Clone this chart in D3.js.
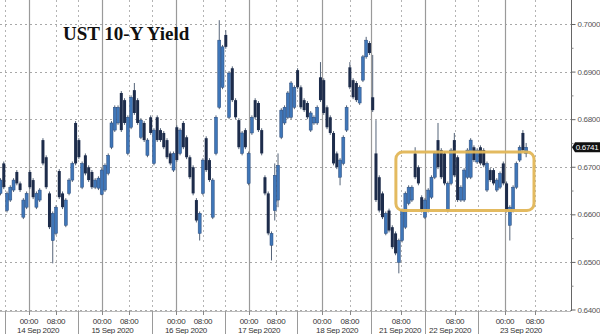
<!DOCTYPE html>
<html>
<head>
<meta charset="utf-8">
<script src="https://cdn.jsdelivr.net/npm/d3@7"></script>
<style>
  body { margin: 0; background: #fff; }
  svg { display: block; }
</style>
</head>
<body>
<svg id="chart" width="600" height="334"></svg>
<script>
// UST 10-Y yield, intraday candles [open, high, low, close], one array per session
const sep14 = [
  [.6644,.6676,.6640,.6672],[.6707,.6711,.6653,.6657],[.6608,.6648,.6604,.6644],[.6630,.6661,.6626,.6657],
  [.6651,.6676,.6647,.6672],[.6689,.6693,.6661,.6665],[.6665,.6669,.6647,.6651],[.6594,.6634,.6590,.6630],
  [.6615,.6648,.6611,.6644],[.6689,.6693,.6653,.6657],[.6672,.6676,.6632,.6636],[.6615,.6648,.6611,.6644],
  [.6630,.6655,.6626,.6651],[.6756,.6760,.6703,.6707],[.6720,.6724,.6653,.6657],[.6644,.6648,.6569,.6573],
  [.6545,.6606,.6497,.6602],[.6560,.6619,.6556,.6615],[.6691,.6695,.6632,.6636],[.6644,.6648,.6611,.6615],
  [.6577,.6634,.6573,.6630],[.6644,.6676,.6640,.6672],[.6672,.6711,.6668,.6707],[.6792,.6796,.6703,.6707]
];
const sep15 = [
  [.6756,.6760,.6716,.6720],[.6657,.6711,.6653,.6707],[.6724,.6728,.6682,.6686],[.6699,.6703,.6668,.6672],
  [.6689,.6693,.6653,.6657],[.6657,.6676,.6653,.6672],[.6655,.6680,.6651,.6676],[.6642,.6697,.6640,.6693],
  [.6651,.6707,.6647,.6703],[.6686,.6728,.6682,.6724],[.6741,.6796,.6737,.6792],[.6777,.6829,.6773,.6825],
  [.6792,.6829,.6788,.6825],[.6855,.6859,.6773,.6777],[.6840,.6844,.6788,.6792],[.6728,.6808,.6724,.6804],
  [.6783,.6850,.6779,.6846],[.6861,.6876,.6809,.6813],[.6840,.6844,.6788,.6792],[.6762,.6802,.6758,.6798],
  [.6792,.6796,.6752,.6756],[.6724,.6760,.6720,.6756],[.6804,.6808,.6767,.6771]
];
const sep16 = [
  [.6707,.6781,.6703,.6777],[.6804,.6808,.6752,.6756],[.6777,.6781,.6752,.6756],[.6771,.6775,.6737,.6741],
  [.6756,.6760,.6716,.6720],[.6728,.6732,.6703,.6707],[.6693,.6732,.6689,.6728],[.6783,.6787,.6710,.6714],
  [.6728,.6781,.6724,.6777],[.6792,.6796,.6737,.6741],[.6762,.6766,.6716,.6720],[.6720,.6724,.6674,.6678],
  [.6699,.6703,.6640,.6644],[.6630,.6634,.6583,.6587],[.6560,.6606,.6545,.6602],[.6644,.6718,.6640,.6714],
  [.6760,.6764,.6689,.6693],[.6714,.6718,.6668,.6672],[.6594,.6676,.6590,.6672],[.6728,.6808,.6724,.6804],
  [.6825,.7008,.6821,.6966],[.6867,.6956,.6863,.6952]
];
const sep17 = [
  [.6977,.6987,.6948,.6952],[.6804,.6901,.6800,.6897],[.6907,.6911,.6836,.6840],[.6840,.6844,.6800,.6804],
  [.6798,.6802,.6737,.6741],[.6728,.6775,.6724,.6771],[.6777,.6781,.6737,.6741],[.6665,.6732,.6661,.6728],
  [.6771,.6808,.6767,.6804],[.6840,.6844,.6800,.6804],[.6834,.6838,.6773,.6777],[.6777,.6781,.6724,.6728],
  [.6678,.6682,.6640,.6644],[.6644,.6648,.6556,.6560],[.6535,.6564,.6503,.6560],[.6608,.6707,.6587,.6682],
  [.6630,.6728,.6615,.6703],[.6762,.6823,.6758,.6819],[.6792,.6829,.6788,.6825],[.6804,.6859,.6800,.6855],
  [.6804,.6880,.6800,.6876],[.6825,.6871,.6821,.6867]
];
const sep18 = [
  [.6903,.6907,.6863,.6867],[.6867,.6871,.6821,.6825],[.6840,.6844,.6815,.6819],[.6834,.6838,.6800,.6804],
  [.6777,.6817,.6773,.6813],[.6792,.6808,.6788,.6804],[.6792,.6829,.6788,.6825],[.6888,.6920,.6836,.6840],
  [.6882,.6886,.6809,.6813],[.6825,.6829,.6779,.6783],[.6804,.6808,.6767,.6771],[.6771,.6775,.6703,.6707],
  [.6728,.6732,.6695,.6699],[.6678,.6718,.6661,.6714],[.6707,.6766,.6703,.6762],[.6777,.6829,.6773,.6825],
  [.6909,.6920,.6863,.6867],[.6882,.6886,.6842,.6846],[.6876,.6880,.6836,.6840],[.6834,.6871,.6830,.6867],
  [.6882,.6935,.6878,.6931],[.6931,.6973,.6927,.6966],[.6960,.6964,.6935,.6939]
];
const sep21 = [
  [.6846,.6935,.6815,.6819],[.6728,.6798,.6626,.6630],[.6678,.6682,.6604,.6608],[.6644,.6648,.6590,.6594],
  [.6560,.6606,.6556,.6602],[.6608,.6612,.6562,.6566],[.6573,.6577,.6527,.6531],[.6560,.6564,.6514,.6518],
  [.6499,.6549,.6476,.6545],[.6545,.6612,.6541,.6608],[.6573,.6648,.6569,.6644],[.6623,.6661,.6619,.6657],
  [.6630,.6661,.6626,.6657],[.6728,.6741,.6674,.6678],[.6699,.6703,.6661,.6665],[.6636,.6640,.6604,.6608]
];
const sep22 = [
  [.6594,.6634,.6590,.6630],[.6608,.6655,.6604,.6651],[.6636,.6682,.6632,.6678],[.6678,.6732,.6674,.6728],
  [.6756,.6792,.6695,.6699],[.6735,.6739,.6674,.6678],[.6728,.6732,.6661,.6665],[.6608,.6669,.6604,.6665],
  [.6665,.6739,.6661,.6735],[.6756,.6771,.6678,.6682],[.6720,.6724,.6626,.6630],[.6630,.6661,.6626,.6657],
  [.6630,.6697,.6626,.6693],[.6678,.6739,.6674,.6735],[.6678,.6760,.6674,.6756],[.6741,.6745,.6710,.6714],
  [.6710,.6739,.6706,.6735]
];
const sep23 = [
  [.6741,.6745,.6703,.6707],[.6735,.6739,.6699,.6703],[.6651,.6711,.6647,.6707],[.6693,.6697,.6668,.6672],
  [.6693,.6697,.6661,.6665],[.6651,.6676,.6647,.6672],[.6657,.6690,.6653,.6686],[.6707,.6711,.6661,.6665],
  [.6665,.6669,.6604,.6608],[.6577,.6619,.6545,.6615],[.6608,.6661,.6604,.6657],[.6657,.6711,.6653,.6707],
  [.6714,.6745,.6710,.6741],[.6771,.6777,.6731,.6735],[.6728,.6750,.6720,.6741]
];

const yTicks = [0.64, 0.65, 0.66, 0.67, 0.68, 0.69, 0.70];
const yMinor = [0.645, 0.655, 0.665, 0.675, 0.685, 0.695];
const lastPrice = 0.6741;

// time axis, in bar units
const dayLabels = ['14 Sep 2020','15 Sep 2020','16 Sep 2020','17 Sep 2020','18 Sep 2020','21 Sep 2020','22 Sep 2020','23 Sep 2020'];
const dayLabelAt = [11.5, 34.3, 56.8, 79.2, 103.1, 122.4, 137.7, 159.4];
const daySeparators = [1.4, 23.7, 46.4, 68.8, 90.8, 113.5, 130, 146.3];
const midnightAt = [8.7, 31.1, 53.8, 76.1, 98.5, 154.5];
const midnightUnlabelled = [113.5, 130];
const eightAt = [17, 39.4, 62, 84.4, 107, 122.7, 139.2, 163.7];

// highlighted range
const boxBars = [121.1, 163.4];
const boxYield = [0.6731, 0.6608];

const bars = [].concat(sep14, sep15, sep16, sep17, sep18, sep21, sep22, sep23)
  .map((d, i) => ({i: i, o: d[0], h: d[1], l: d[2], c: d[3]}));

const svg = d3.select('#chart');
const plotRight = 571, plotBottom = 311;
const x = d3.scaleLinear().domain([0, 175]).range([0.5, 0.5 + 175 * 3.265]);
const y = d3.scaleLinear().domain([0.64, 0.70]).range([309.5, 24]);
const fontAxis = '"Liberation Sans", Arial, sans-serif';

svg.append('rect').attr('width', 600).attr('height', 334).attr('fill', '#fff');

// grid
const grid = svg.append('g');
grid.selectAll('.hg').data(yTicks).join('line')
  .attr('x1', 0).attr('x2', plotRight)
  .attr('y1', d => Math.round(y(d)) + 0.5).attr('y2', d => Math.round(y(d)) + 0.5)
  .attr('stroke', '#a8a8a8').attr('stroke-dasharray', '2,3');
grid.selectAll('.vd').data(daySeparators.filter(d => midnightUnlabelled.indexOf(d) < 0).concat(eightAt)).join('line')
  .attr('x1', d => Math.round(x(d)) + 0.5).attr('x2', d => Math.round(x(d)) + 0.5)
  .attr('y1', 0).attr('y2', plotBottom)
  .attr('stroke', '#b4b4b4').attr('stroke-dasharray', '2,3');
grid.selectAll('.vs').data(midnightAt.concat(midnightUnlabelled)).join('line')
  .attr('x1', d => Math.round(x(d)) + 0.5).attr('x2', d => Math.round(x(d)) + 0.5)
  .attr('y1', 0).attr('y2', plotBottom)
  .attr('stroke', '#9a9a9a').attr('stroke-width', 1.2);

// candles
const bw = 3.0;
const candles = svg.append('g');
candles.selectAll('.wick').data(bars).join('line')
  .attr('x1', d => x(d.i)).attr('x2', d => x(d.i))
  .attr('y1', d => y(d.h)).attr('y2', d => y(d.l))
  .attr('stroke', '#556479').attr('stroke-width', 1);
candles.selectAll('.body').data(bars).join('rect')
  .attr('x', d => x(d.i) - bw / 2)
  .attr('width', bw)
  .attr('y', d => y(Math.max(d.o, d.c)))
  .attr('height', d => Math.max(1, Math.abs(y(d.o) - y(d.c))))
  .attr('fill', d => d.c >= d.o ? '#3f76b8' : '#1d2c4b')
  .attr('stroke', d => d.c >= d.o ? '#2a4a7a' : 'none')
  .attr('stroke-width', 0.5);

// highlight box
svg.append('rect')
  .attr('x', x(boxBars[0])).attr('y', y(boxYield[0]))
  .attr('width', x(boxBars[1]) - x(boxBars[0]))
  .attr('height', y(boxYield[1]) - y(boxYield[0]))
  .attr('rx', 7).attr('fill', 'none')
  .attr('stroke', '#e2b657').attr('stroke-width', 3).attr('opacity', 0.95);

// y axis
svg.append('line').attr('x1', plotRight + 0.5).attr('x2', plotRight + 0.5)
  .attr('y1', 0).attr('y2', plotBottom).attr('stroke', '#666');
const yAxis = svg.append('g').attr('transform', `translate(${plotRight + 0.5},0)`)
  .call(d3.axisRight(y).tickValues(yTicks).tickSize(4).tickPadding(2).tickFormat(d3.format('.4f')));
yAxis.select('.domain').remove();
yAxis.selectAll('line').attr('stroke', '#666');
yAxis.selectAll('text').attr('fill', '#555').style('font-family', fontAxis)
  .style('font-size', '8px').style('letter-spacing', '-0.3px');
const yMinorAxis = svg.append('g').attr('transform', `translate(${plotRight + 0.5},0)`)
  .call(d3.axisRight(y).tickValues(yMinor).tickSize(2).tickFormat(''));
yMinorAxis.select('.domain').remove();
yMinorAxis.selectAll('line').attr('stroke', '#888');

// last price tag
const ly = y(lastPrice);
svg.append('path')
  .attr('d', `M${plotRight + 1},${ly} L${plotRight + 4},${ly - 5} L600,${ly - 5} L600,${ly + 5} L${plotRight + 4},${ly + 5} Z`)
  .attr('fill', '#111');
svg.append('text').attr('x', 587).attr('y', ly + 3)
  .attr('text-anchor', 'middle').attr('fill', '#fff')
  .style('font-family', fontAxis).style('font-size', '8px').style('letter-spacing', '-0.3px')
  .text(d3.format('.4f')(lastPrice));

// x axis
const xa = svg.append('g');
xa.append('line').attr('x1', 0).attr('x2', plotRight).attr('y1', plotBottom + 0.5).attr('y2', plotBottom + 0.5)
  .attr('stroke', '#bbb');
xa.selectAll('.sep').data(daySeparators).join('line')
  .attr('x1', d => Math.round(x(d)) + 0.5).attr('x2', d => Math.round(x(d)) + 0.5)
  .attr('y1', plotBottom).attr('y2', 334).attr('stroke', '#9a9a9a');
xa.selectAll('.tk').data(midnightAt.concat(eightAt)).join('line')
  .attr('x1', d => Math.round(x(d)) + 0.5).attr('x2', d => Math.round(x(d)) + 0.5)
  .attr('y1', plotBottom).attr('y2', plotBottom + 4).attr('stroke', '#888');
const tlabels = midnightAt.map(d => ({at: d, t: '00:00'})).concat(eightAt.map(d => ({at: d, t: '08:00'})));
xa.selectAll('.tl').data(tlabels).join('text')
  .attr('x', d => x(d.at)).attr('y', 324)
  .attr('text-anchor', 'middle').attr('fill', '#333')
  .style('font-family', fontAxis).style('font-size', '8px').style('letter-spacing', '-0.3px')
  .text(d => d.t);
xa.selectAll('.dl').data(dayLabels).join('text')
  .attr('x', (d, i) => x(dayLabelAt[i])).attr('y', 333)
  .attr('text-anchor', 'middle').attr('fill', '#333')
  .style('font-family', fontAxis).style('font-size', '8px').style('letter-spacing', '-0.3px')
  .text(d => d);

// title
svg.append('text').attr('x', 63).attr('y', 40)
  .attr('fill', '#111')
  .style('font-family', '"Liberation Serif", "Times New Roman", serif')
  .style('font-weight', 'bold').style('font-size', '19px')
  .text('UST 10-Y Yield');
</script>
</body>
</html>
